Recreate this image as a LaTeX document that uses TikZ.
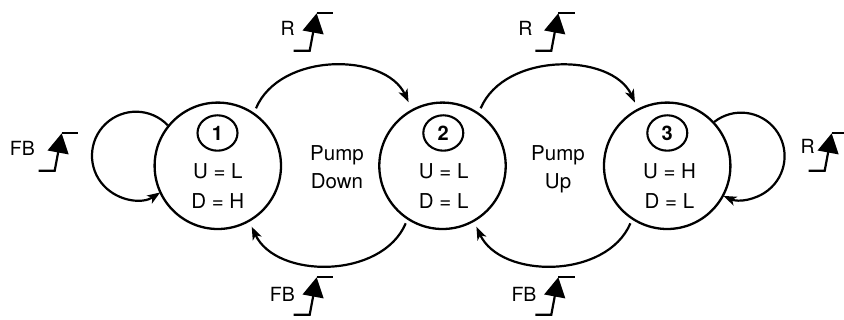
\documentclass[tikz,border=0pt]{standalone}
\usepackage{fontspec}
\setmainfont{TeX Gyre Heros}
\usetikzlibrary{arrows.meta,calc,shapes.geometric}
\tikzset{
  state/.style={circle, draw, line width=2.3pt, minimum size=126.4pt, inner sep=0pt},
  numbox/.style={ellipse, draw, line width=2.1pt, minimum width=40pt, minimum height=35.4pt,
    inner sep=0pt, font=\fontsize{20}{24}\selectfont\bfseries},
  txt/.style={inner sep=0pt, anchor=base, font=\fontsize{20.5}{24}\selectfont},
  lab/.style={inner sep=0pt, anchor=base east, font=\fontsize{19.5}{24}\selectfont},
  trans/.style={line width=2.2pt, -{Stealth[length=13pt,width=9.5pt,inset=3.5pt]}},
  sig/.style={line width=2.2pt},
  edgesig/.pic={
    \draw[sig, -{Triangle[length=19.5pt,width=21pt]}] (-23,-37.4) -- (-7,-37.4) -- (0,0);
    \draw[sig] (0,0) -- (16.5,0);
  }
}
\begin{document}
\begin{tikzpicture}[x=1pt,y=1pt]
\path[use as bounding box, fill=white] (0,0) rectangle (844,320);

% states
\node[state] (s1) at (217.8,154.2) {};
\node[state] (s2) at (442.5,154.2) {};
\node[state] (s3) at (667.2,154.2) {};

\node[numbox] (n1) at (217.5,187) {1};
\node[numbox] (n2) at (443.3,187) {2};
\node[numbox] (n3) at (667.3,187) {3};

\node[txt] (u1) at (217.8,141) {U = L};
\node[txt] (d1) at (217.8,111.7) {D = H};
\node[txt] (u2) at (443.7,141) {U = L};
\node[txt] (d2) at (443.7,111.7) {D = L};
\node[txt] (u3) at (669.5,141) {U = H};
\node[txt] (d3) at (669.5,111.7) {D = L};

% middle labels
\node[txt] (pd1) at (337,159) {Pump};
\node[txt] (pd2) at (337,131.7) {Down};
\node[txt] (pu1) at (558,159) {Pump};
\node[txt] (pu2) at (558,131.7) {Up};

% transitions between states
\draw[trans] ($(s1.center)+(56.4:69)$) .. controls +(24,56.6) and +(-23.3,50) .. ($(s2.center)+(118.1:72)$);
\draw[trans] ($(s2.center)+(237.4:68.3)$) .. controls +(-23.7,-56) and +(24.3,-52.6) .. ($(s1.center)+(299.1:69.7)$);
\draw[trans] ($(s2.center)+(56.4:69)$) .. controls +(24,56.6) and +(-23.3,50) .. ($(s3.center)+(117:71)$);
\draw[trans] ($(s3.center)+(237.4:68.3)$) .. controls +(-23.7,-56) and +(24.3,-52.6) .. ($(s2.center)+(299.1:69.7)$);

% self loops
\draw[trans] (s1.141.3) arc[start angle=43.7, end angle=303.4, radius=44];
\draw[trans] (s3.43.3) arc[start angle=128.1, end angle=-113.9, radius=43.5];

% edge symbols and labels
\pic (e0) at (61.7,186.7) {edgesig};
\node[lab] (l0) at (35,164) {FB};
\pic (e1) at (316.7,306.7) {edgesig};
\node[lab] (l1) at (295,284) {R};
\pic (e2) at (558.3,306.7) {edgesig};
\node[lab] (l2) at (532.7,284) {R};
\pic (e3) at (316.7,42.7) {edgesig};
\node[lab] (l3) at (295,18.3) {FB};
\pic (e4) at (558.3,42.7) {edgesig};
\node[lab] (l4) at (536.7,18.3) {FB};
\pic (e5) at (831.7,186.7) {edgesig};
\node[lab] (l5) at (815,166.7) {R};
\end{tikzpicture}
\end{document}
